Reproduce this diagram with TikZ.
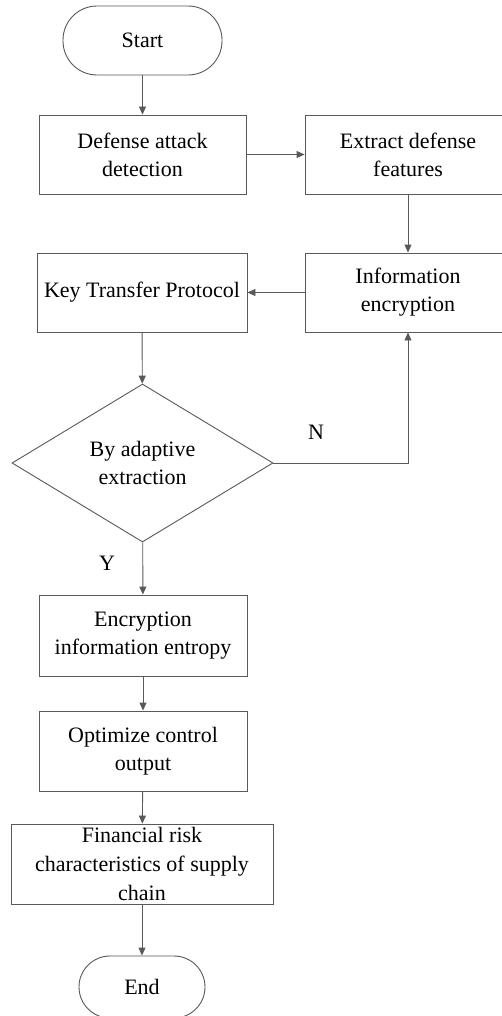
\documentclass[tikz,border=0pt]{standalone}
\usepackage{fontspec}
\setmainfont{Liberation Serif}
\usetikzlibrary{arrows.meta,shapes.geometric}
\definecolor{linegray}{HTML}{595959}
\begin{document}
\begin{tikzpicture}[x=1pt,y=-1pt,
  every node/.style={font=\fontsize{22}{28}\selectfont, text=black},
  box/.style={draw=linegray, line width=0.9pt, rectangle, inner sep=0pt, align=center},
  term/.style={draw=linegray, line width=0.9pt, rectangle, rounded corners=31pt, inner sep=0pt, align=center},
  decis/.style={draw=linegray, line width=0.9pt, diamond, aspect=1.65, inner sep=0pt, align=center},
  conn/.style={draw=linegray, line width=0.9pt, -{Triangle[length=8pt,width=7pt]}},
  lbl/.style={font=\fontsize{22}{26}\selectfont}
]
\useasboundingbox (0,0) rectangle (502,1016);
\clip (0,0) rectangle (502,1016);
\fill[white] (0,0) rectangle (502,1016);

\node[term, minimum width=159pt, minimum height=69pt, rounded corners=34pt] (start) at (142.5,40.5) {Start};
\node[box, minimum width=207pt, minimum height=79pt] (det) at (142.5,154.5) {Defense attack\\detection};
\node[box, minimum width=206pt, minimum height=79pt] (ext) at (408,154.5) {Extract defense\\features};
\node[box, minimum width=206pt, minimum height=79pt] (enc) at (408,292.5) {Information\\encryption};
\node[box, minimum width=210pt, minimum height=79pt] (key) at (142,292.5) {Key Transfer Protocol};
\node[decis, minimum width=261pt, minimum height=158pt] (dia) at (142.5,463) {By adaptive\\extraction};
\node[box, minimum width=208pt, minimum height=81pt] (ent) at (143,635.5) {Encryption\\information entropy};
\node[box, minimum width=208pt, minimum height=80pt] (opt) at (143,751) {Optimize control\\output};
\node[box, minimum width=262pt, minimum height=80pt, font=\fontsize{22}{29}\selectfont] (fin) at (142,864) {Financial risk\\characteristics of supply\\chain};
\node[term, minimum width=126pt, minimum height=62pt] (end) at (142,987) {End};

\node[lbl] (nlab) at (316,432) {N};
\node[lbl] (ylab) at (107,563) {Y};

\draw[conn] (start) -- (det);
\draw[conn] (det) -- (ext);
\draw[conn] (ext) -- (enc);
\draw[conn] (enc) -- (key);
\draw[conn] (key) -- (dia);
\draw[conn] (dia.east) -| (enc.south);
\draw[conn] (dia) -- (ent);
\draw[conn] (ent) -- (opt);
\draw[conn] (opt) -- (fin);
\draw[conn] (fin) -- (end);
\end{tikzpicture}
\end{document}
